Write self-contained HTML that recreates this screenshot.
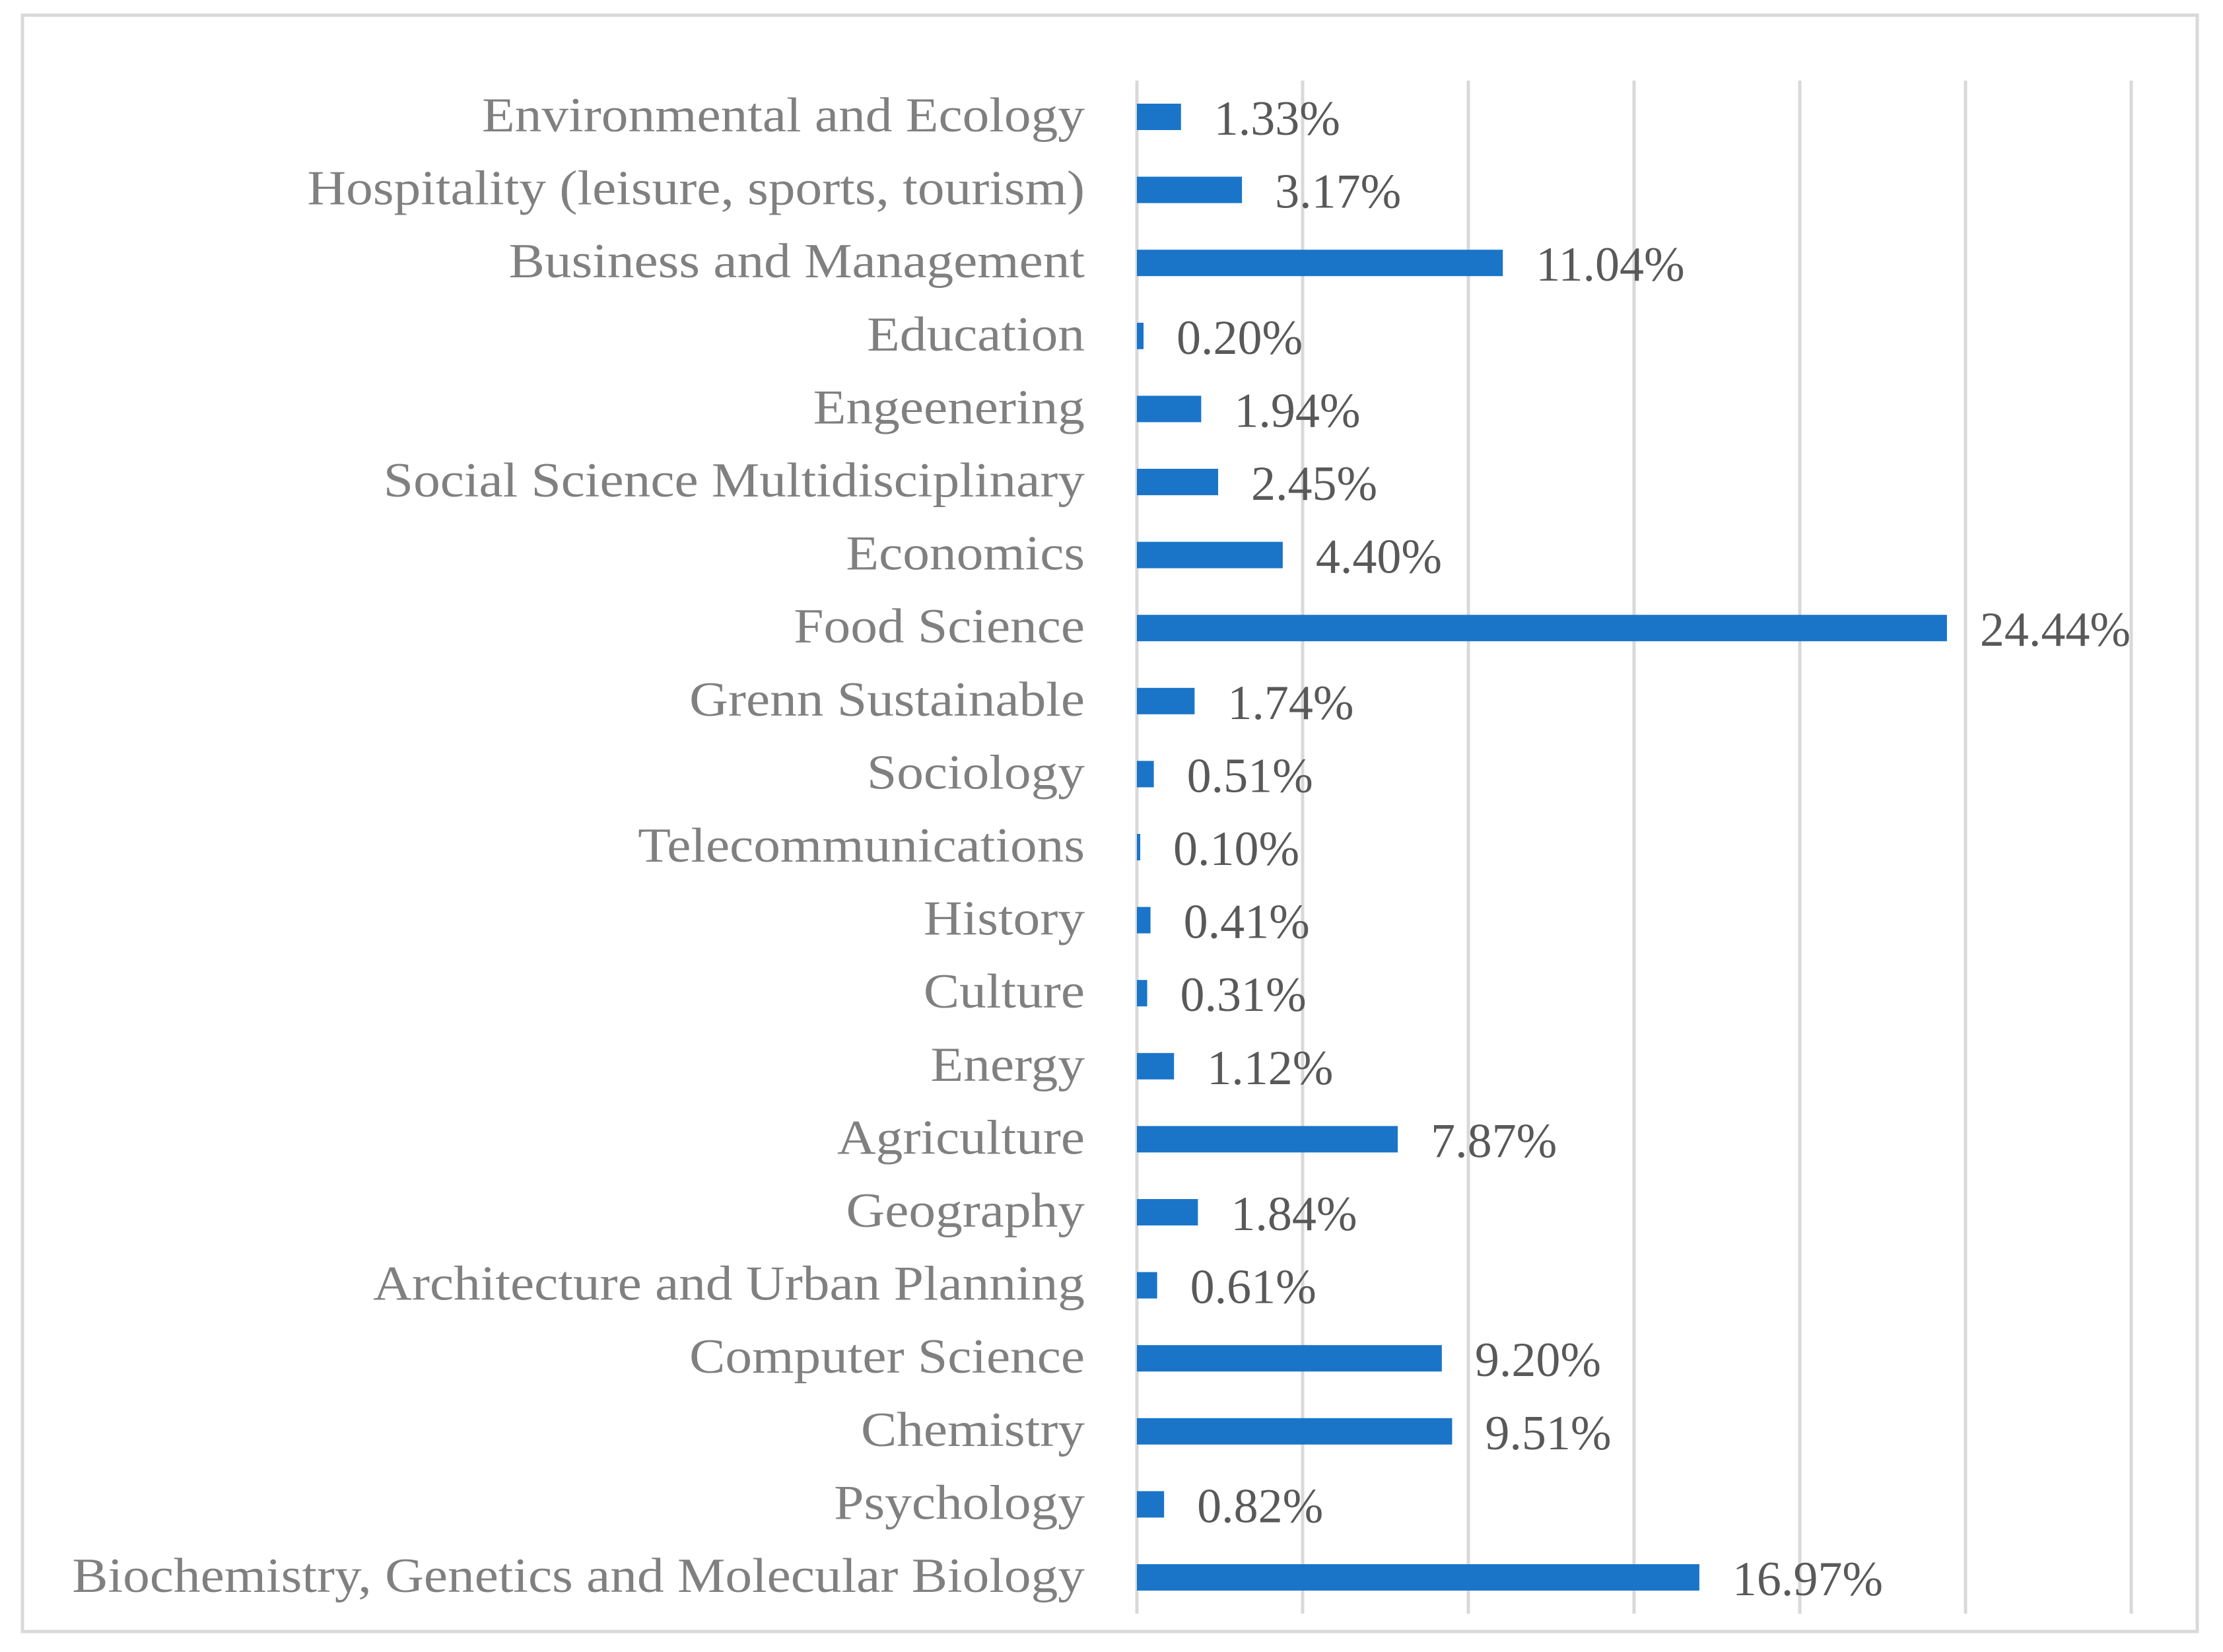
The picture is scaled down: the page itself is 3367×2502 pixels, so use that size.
<!DOCTYPE html>
<html><head><meta charset="utf-8"><style>
html,body{margin:0;padding:0;background:#fff;}
svg{display:block;}
text{font-family:"Liberation Serif",serif;}
</style></head><body>
<svg id="chart" width="3367" height="2502" xmlns="http://www.w3.org/2000/svg">
<rect x="34" y="23" width="3294" height="2448" fill="#fff" stroke="#d9d9d9" stroke-width="5"/>
<g id="grid"></g><g id="bars"></g><g id="labels"></g>
</svg>
<script>
const categories=["Environmental and Ecology","Hospitality (leisure, sports, tourism)","Business and Management","Education","Engeenering","Social Science Multidisciplinary","Economics","Food Science","Grenn Sustainable","Sociology","Telecommunications","History","Culture","Energy","Agriculture","Geography","Architecture and Urban Planning","Computer Science","Chemistry","Psychology","Biochemistry, Genetics and Molecular Biology"];
const values=[1.33,3.17,11.04,0.20,1.94,2.45,4.40,24.44,1.74,0.51,0.10,0.41,0.31,1.12,7.87,1.84,0.61,9.20,9.51,0.82,16.97];
const gridTicks=[0,5,10,15,20,25,30];
const NS="http://www.w3.org/2000/svg";
const x0=1722,pxPer=50.2,yTop=177,step=110.6,barH=40;
const xs=v=>x0+v*pxPer;
const ys=i=>yTop+i*step;
function mk(t,a){const e=document.createElementNS(NS,t);for(const k in a)e.setAttribute(k,a[k]);return e;}
const grid=document.getElementById('grid'),bars=document.getElementById('bars'),labels=document.getElementById('labels');
gridTicks.forEach(t=>{
  const l=mk('line',{x1:xs(t),x2:xs(t),y1:122,y2:2444,stroke:'#d9d9d9','stroke-width':5});
  
  
  grid.appendChild(l);
});
categories.forEach((c,i)=>{
  const v=values[i],cy=ys(i);
  const r=mk('rect',{x:x0,y:cy-barH/2,width:Math.max(v*pxPer,1),height:barH,fill:'#1a75c9'});
  
  
  bars.appendChild(r);
  const lt=mk('text',{x:0,y:0,transform:'translate(1643,'+(cy+22)+') scale(1.1,1)','text-anchor':'end','font-size':74,fill:'#808080'});
  lt.textContent=c;
  
  
  labels.appendChild(lt);
  const vt=mk('text',{x:xs(v)+50,y:cy+27,'font-size':74,fill:'#595959'});
  vt.textContent=v.toFixed(2)+'%';
  
  
  labels.appendChild(vt);
});
</script>
</body></html>
